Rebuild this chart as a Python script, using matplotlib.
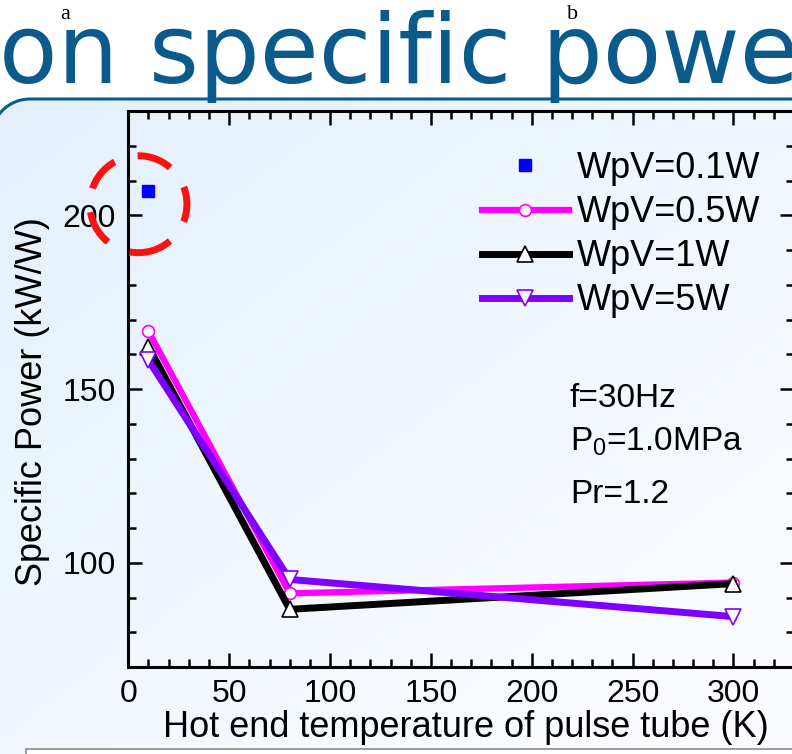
import numpy as np
import matplotlib
matplotlib.use("Agg")
import matplotlib.pyplot as plt
from matplotlib.patches import Ellipse, Rectangle, Polygon
from matplotlib.ticker import MultipleLocator

plt.rcParams['font.family'] = ['Liberation Sans', 'DejaVu Sans']
plt.rcParams['mathtext.fontset'] = 'custom'
plt.rcParams['mathtext.rm'] = 'Liberation Sans'
plt.rcParams['mathtext.default'] = 'regular'

# hot end temperature (K)
temps = [10, 80, 300]
# specific power (kW/W) per working-piston volume setting
wpv01_t = [10]
wpv01 = [207.0]
wpv05 = [166.6, 91.2, 94.3]
wpv1 = [162.2, 86.6, 94.0]
wpv5 = [158.3, 95.2, 84.5]

labels = ['WpV=0.1W', 'WpV=0.5W', 'WpV=1W', 'WpV=5W']
notes = ['f=30Hz', 'P$_0$=1.0MPa', 'Pr=1.2']

W, H = 792, 754
fig = plt.figure(figsize=(W / 100, H / 100), dpi=100)

# slide background, drawn in pixel coordinates
bg = fig.add_axes([0, 0, 1, 1])
bg.set_xlim(0, W)
bg.set_ylim(H, 0)
bg.axis('off')

# rounded top-left corner of the slide panel
top, r, cx = 99, 39, 30
ang = np.linspace(np.pi, 1.5 * np.pi, 40)
corner = np.column_stack([cx + r * np.cos(ang), top + r + r * np.sin(ang)])
outline = np.vstack([[[cx - r, H + 20]], corner, [[W + 20, top]]])
panel = Polygon(np.vstack([outline, [[W + 20, H + 20]]]), closed=True,
                facecolor='none', edgecolor='none')
bg.add_patch(panel)

yy, xx = np.mgrid[0:H, 0:W]
t = np.clip(0.55 * xx / W + 0.6 * (yy - top) / (H - top), 0, 1)
c0 = np.array([228, 240, 252]) / 255
c1 = np.array([250, 252, 255]) / 255
grad = c0[None, None, :] * (1 - t[..., None]) + c1[None, None, :] * t[..., None]
im = bg.imshow(grad, extent=[0, W, H, 0], interpolation='bilinear', zorder=0)
im.set_clip_path(panel)
bg.plot(outline[:, 0], outline[:, 1], color='#0D5A8C', lw=2.2, zorder=1)
bg.add_patch(Rectangle((26, 749), 800, 20, facecolor='white',
                       edgecolor='#8C8C8C', lw=1.2, zorder=1))

bg.text(-1, 83, 'on specific powe', fontsize=69, color='#0B5A8C',
        family=['DejaVu Sans'], ha='left', va='baseline')
bg.text(65, 19, 'a', fontsize=16, family=['Liberation Serif'], ha='center', va='baseline')
bg.text(573, 19, 'b', fontsize=16, family=['Liberation Serif'], ha='center', va='baseline')

# chart
ax = fig.add_axes([128.3 / W, (H - 667) / H, (794 - 128.3) / W, (667 - 111.1) / H])
ax.set_facecolor('none')
ax.set_xlim(0, 330)
ax.set_ylim(70, 230)
ax.xaxis.set_major_locator(MultipleLocator(50))
ax.xaxis.set_minor_locator(MultipleLocator(10))
ax.yaxis.set_major_locator(MultipleLocator(50))
ax.yaxis.set_minor_locator(MultipleLocator(10))
ax.tick_params(which='both', direction='in', top=True, right=True, width=1.8,
               labelsize=23, pad=9)
ax.tick_params(which='major', length=10)
ax.tick_params(which='minor', length=6)
for s in ax.spines.values():
    s.set_linewidth(2.2)

h01, = ax.plot(wpv01_t, wpv01, ls='none', marker='s', ms=8.5, color='#0000FF', zorder=5)
h05, = ax.plot(temps, wpv05, color='#FF00FF', lw=4.5, marker='o', ms=8.5,
               mfc='white', mec='#FF00FF', mew=1.2, zorder=3)
h1, = ax.plot(temps, wpv1, color='black', lw=5, marker='^', ms=11.5,
              mfc='white', mec='black', mew=1.2, zorder=3.1)
h5, = ax.plot(temps, wpv5, color='#8000FF', lw=5, marker='v', ms=11.5,
              mfc='white', mec='#8000FF', mew=1.2, zorder=3.2)

ring = Ellipse((5, 203.2), 48.1, 27.9, fill=False, edgecolor='#FF1010', lw=5,
               linestyle=(0.15, (5.1, 3.45)), clip_on=False, zorder=6)
ax.add_patch(ring)

ax.legend([h01, h05, h1, h5], labels, loc='upper left', bbox_to_anchor=(0.531, 0.928),
          frameon=False, fontsize=26, handlelength=2.42, handletextpad=0.21,
          labelspacing=0.25, borderpad=0, borderaxespad=0, numpoints=1)

for txt, yb in zip(notes, [0.4682, 0.389, 0.2949]):
    ax.text(0.6635, yb, txt, transform=ax.transAxes, fontsize=24, va='baseline')

ax.set_xlabel('Hot end temperature of pulse tube (K)', fontsize=26)
ax.xaxis.set_label_coords(0.507, -0.077)
ax.set_ylabel('Specific Power (kW/W)', fontsize=26)
ax.yaxis.set_label_coords((50 - 128.3) / 665.7, 0.478)

fig.savefig('out.png', dpi=100)
